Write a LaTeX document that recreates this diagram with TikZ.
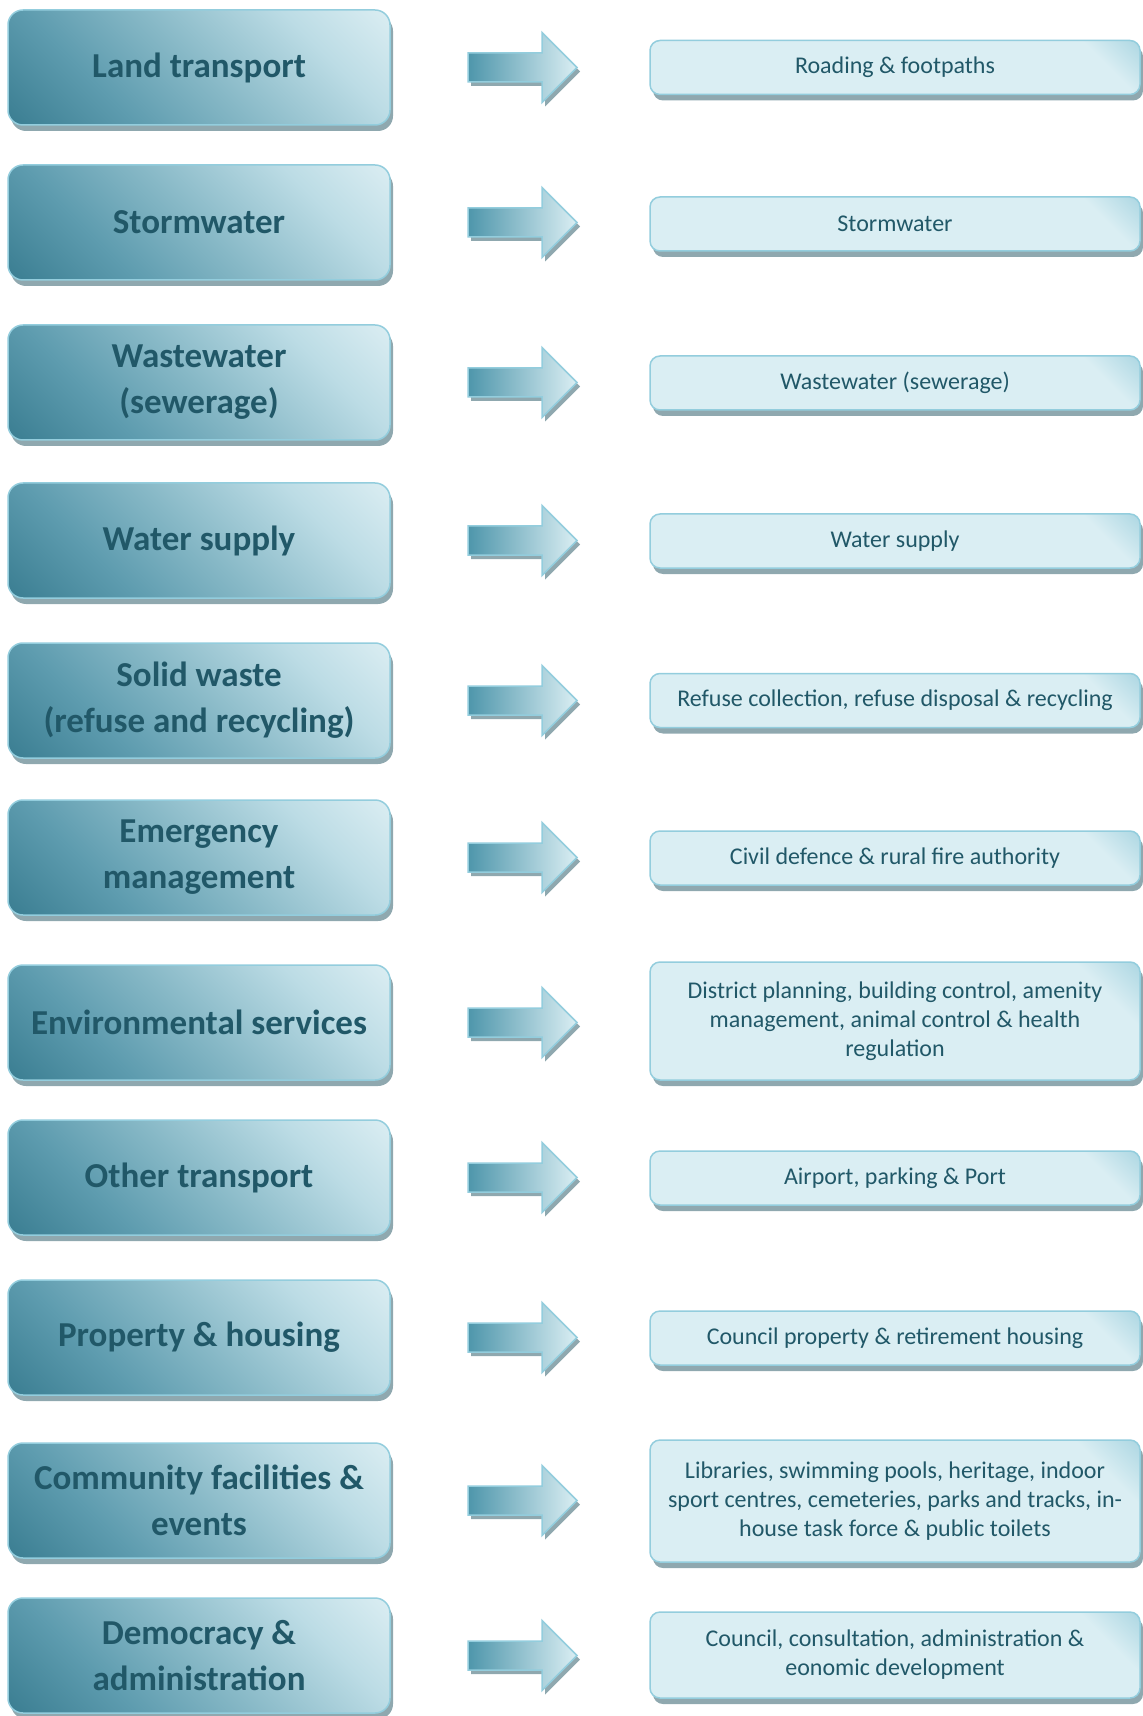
\documentclass[tikz,border=0pt]{standalone}
\usepackage{fontspec}
\setmainfont{Carlito}
\usetikzlibrary{shadows}
\definecolor{txt}{HTML}{215868}
\definecolor{rfill}{HTML}{DAEEF3}
\definecolor{rdark}{HTML}{A9D5E1}
\definecolor{bord}{HTML}{93CDDD}
\definecolor{shdw}{HTML}{8FA8AF}
\definecolor{lbA}{HTML}{3B7E92}
\definecolor{lbB}{HTML}{5E9CAF}
\definecolor{lbC}{HTML}{88B9C7}
\definecolor{lbD}{HTML}{BCDCE5}
\definecolor{lbE}{HTML}{DAEDF2}
\definecolor{arL}{HTML}{4E96AB}
\definecolor{arR}{HTML}{DAEEF3}
\pgfdeclareverticalshading{lboxshade}{100bp}{color(0bp)=(lbA); color(15bp)=(lbA); color(33bp)=(lbB); color(50bp)=(lbC); color(70bp)=(lbD); color(85bp)=(lbE); color(100bp)=(lbE)}
\pgfdeclareverticalshading{rboxshade}{100bp}{color(0bp)=(rfill); color(78bp)=(rfill); color(86bp)=(rdark); color(100bp)=(rdark)}
\tikzset{
  boxshadow/.style={drop shadow={shadow xshift=1.5pt, shadow yshift=-3pt, fill=shdw, opacity=1}},
  lbox/.style={shape=rectangle, rounded corners=7.5pt, minimum width=191pt, minimum height=57.5pt,
    inner sep=0pt, align=center, text=txt, font=\bfseries\fontsize{17.5}{23}\selectfont,
    shade, shading=lboxshade, shading angle=-45, draw=bord, line width=0.75pt, boxshadow},
  rbox/.style={shape=rectangle, rounded corners=5pt, minimum width=245pt, minimum height=27pt,
    inner sep=0pt, align=center, text=txt, font=\fontsize{12}{14.5}\selectfont,
    shade, shading=rboxshade, shading angle=-45, draw=bord, line width=0.75pt, boxshadow},
  blockarrow/.style={left color=arL, right color=arR, draw=bord, line width=0.75pt,
    drop shadow={shadow xshift=1.5pt, shadow yshift=-2pt, fill=shdw, opacity=1}},
}
\newcommand{\blockarr}[2]{%
  \coordinate (#1) at (522.5,#2);
  \path[blockarrow] (#1) ++(-54.5,-14.5) -- ++(74,0) -- ++(0,-20.5) -- ++(35,35)
    -- ++(-35,35) -- ++(0,-20.5) -- ++(-74,0) -- cycle;}
\begin{document}
\begin{tikzpicture}[x=0.5pt,y=-0.5pt]
\useasboundingbox (0,0) rectangle (1142,1716);
% row 1
\node[lbox] (L1) at (199,67.5) {Land transport};
\blockarr{A1}{67.5}
\node[rbox] (R1) at (895,67.5) {Roading \& footpaths};
% row 2
\node[lbox] (L2) at (199,222.5) {Stormwater};
\blockarr{A2}{222.5}
\node[rbox] (R2) at (895,224) {Stormwater};
% row 3
\node[lbox] (L3) at (199,382.5) {Wastewater\\(sewerage)};
\blockarr{A3}{382.5}
\node[rbox] (R3) at (895,383) {Wastewater (sewerage)};
% row 4
\node[lbox] (L4) at (199,540.5) {Water supply};
\blockarr{A4}{540.5}
\node[rbox] (R4) at (895,541) {Water supply};
% row 5
\node[lbox] (L5) at (199,700.5) {Solid waste\\(refuse and recycling)};
\blockarr{A5}{700.5}
\node[rbox] (R5) at (895,700.5) {Refuse collection, refuse disposal \& recycling};
% row 6
\node[lbox] (L6) at (199,857.5) {Emergency\\management};
\blockarr{A6}{857.5}
\node[rbox] (R6) at (895,858) {Civil defence \& rural fire authority};
% row 7
\node[lbox] (L7) at (199,1022.5) {Environmental services};
\blockarr{A7}{1022.5}
\node[rbox, minimum height=59pt] (R7) at (895,1021) {District planning, building control, amenity\\management, animal control \& health\\regulation};
% row 8
\node[lbox] (L8) at (199,1177.5) {Other transport};
\blockarr{A8}{1177.5}
\node[rbox] (R8) at (895,1178) {Airport, parking \& Port};
% row 9
\node[lbox] (L9) at (199,1337.5) {Property \& housing};
\blockarr{A9}{1337.5}
\node[rbox] (R9) at (895,1338) {Council property \& retirement housing};
% row 10
\node[lbox] (L10) at (199,1500.5) {Community facilities \&\\events};
\blockarr{A10}{1500.5}
\node[rbox, minimum height=61pt] (R10) at (895,1501) {Libraries, swimming pools, heritage, indoor\\sport centres, cemeteries, parks and tracks, in-\\house task force \& public toilets};
% row 11
\node[lbox] (L11) at (199,1655.5) {Democracy \&\\administration};
\blockarr{A11}{1655.5}
\node[rbox, minimum height=43pt] (R11) at (895,1655) {Council, consultation, administration \&\\eonomic development};
\end{tikzpicture}
\end{document}
